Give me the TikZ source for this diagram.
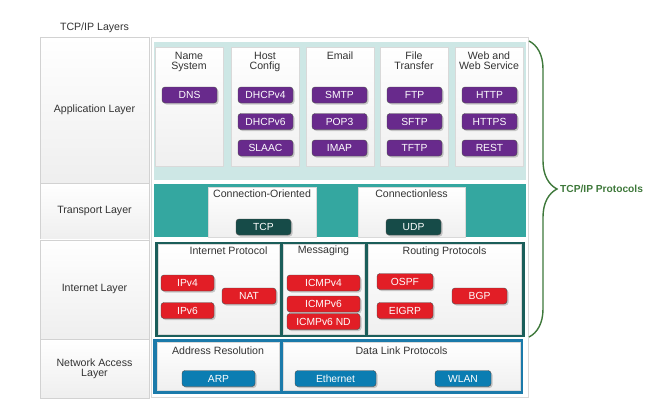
\documentclass[tikz,border=0pt]{standalone}
\usepackage{fontspec}
\setmainfont{Liberation Sans}
\usetikzlibrary{positioning, shadows, decorations.pathreplacing}

\definecolor{txtGray}{RGB}{51,51,51}
\definecolor{appBg}{RGB}{205,231,229}
\definecolor{appPurple}{RGB}{104,42,140}
\definecolor{trBg}{RGB}{52,167,160}
\definecolor{trDark}{RGB}{22,75,72}
\definecolor{inBg}{RGB}{27,94,90}
\definecolor{inRed}{RGB}{226,30,38}
\definecolor{naBg}{RGB}{27,122,170}
\definecolor{naBlue}{RGB}{11,125,178}
\definecolor{braceGreen}{RGB}{62,120,58}

\begin{document}
\begin{tikzpicture}[
	x=1pt, y=-1pt,
	font=\fontsize{10.6}{10}\selectfont,
	every node/.style={inner sep=1pt, text=txtGray},
	softshadow/.style={drop shadow={shadow xshift=1.2pt, shadow yshift=-1.2pt, opacity=0.3}},
	layer/.style={draw=gray!35, top color=white, bottom color=gray!13, minimum width=109pt, align=center, softshadow},
	panel/.style={draw=gray!30, fill=white, softshadow},
	grp/.style={draw=gray!30, top color=white, bottom color=gray!12, softshadow},
	grptitle/.style={align=center, anchor=north},
	btn/.style={rounded corners=3pt, draw=black!70, text=white, minimum height=16pt, inner sep=0pt,
		font=\fontsize{10.3}{10}\selectfont, drop shadow={shadow xshift=1.5pt, shadow yshift=-1.5pt, opacity=0.4}},
	appbtn/.style={btn, fill=appPurple, minimum width=55pt},
	trbtn/.style={btn, fill=trDark, minimum width=55pt},
	inbtn/.style={btn, fill=inRed},
	nabtn/.style={btn, fill=naBlue},
	brace/.style={decorate, decoration={brace, amplitude=28pt}, draw=braceGreen, line width=1.4pt}
	]
	\useasboundingbox (0,0) rectangle (660,415);
	
	% Layer column
	\node[layer, minimum height=146pt] (appLayer) at (94.5,110) {Application Layer};
	\node[layer, minimum height=56pt, below=0pt of appLayer] (trLayer) {Transport Layer};
	\node[layer, minimum height=99pt, below=0pt of trLayer] (inLayer) {Internet Layer};
	\node[layer, minimum height=59pt, below=0pt of inLayer] (naLayer) {Network Access\\Layer};
	\node[above=3pt of appLayer] (layersTitle) {TCP/IP Layers};
	
	% Protocol stack
	\node[panel, minimum width=377pt, minimum height=360pt] (stack) at (339.5,217) {};
	
	% Application
	\node[fill=appBg, minimum width=372pt, minimum height=138pt] (appBand) at (340,111) {};
	\node[grp, minimum width=68pt, minimum height=119pt] (nameCol) at (189,106.5) {};
	\node[grp, minimum width=68pt, minimum height=119pt] (hostCol) at (265,106.5) {};
	\node[grp, minimum width=68pt, minimum height=119pt] (mailCol) at (340,106.5) {};
	\node[grp, minimum width=68pt, minimum height=119pt] (fileCol) at (414,106.5) {};
	\node[grp, minimum width=68pt, minimum height=119pt] (webCol) at (489,106.5) {};
	\node[grptitle, below=4pt of nameCol.north] (nameTitle) {Name\\System};
	\node[grptitle, below=4pt of hostCol.north] (hostTitle) {Host\\Config};
	\node[grptitle, below=4pt of mailCol.north] (mailTitle) {Email};
	\node[grptitle, below=4pt of fileCol.north] (fileTitle) {File\\Transfer};
	\node[grptitle, below=4pt of webCol.north] (webTitle) {Web and\\Web Service};
	\node[appbtn] (dns) at (189.5,95) {DNS};
	\node[appbtn] (dhcp4) at (265.5,95) {DHCPv4};
	\node[appbtn] (dhcp6) at (265.5,121.5) {DHCPv6};
	\node[appbtn] (slaac) at (265.5,148) {SLAAC};
	\node[appbtn] (smtp) at (339.5,95) {SMTP};
	\node[appbtn] (pop3) at (339.5,121.5) {POP3};
	\node[appbtn] (imap) at (339.5,148) {IMAP};
	\node[appbtn] (ftp) at (414.5,95) {FTP};
	\node[appbtn] (sftp) at (414.5,121.5) {SFTP};
	\node[appbtn] (tftp) at (414.5,148) {TFTP};
	\node[appbtn] (http) at (489.5,95) {HTTP};
	\node[appbtn] (https) at (489.5,121.5) {HTTPS};
	\node[appbtn] (rest) at (489.5,148) {REST};
	
	% Transport
	\node[fill=trBg, minimum width=372pt, minimum height=53pt] (trBand) at (340,210.5) {};
	\node[grp, minimum width=108pt, minimum height=50pt] (coBox) at (262,212) {};
	\node[grp, minimum width=107pt, minimum height=50pt] (clBox) at (411.5,212) {};
	\node[grptitle, below=1.5pt of coBox.north] (coTitle) {Connection-Oriented};
	\node[grptitle, below=1.5pt of clBox.north] (clTitle) {Connectionless};
	\node[trbtn] (tcp) at (263.5,227) {TCP};
	\node[trbtn] (udp) at (413.5,227) {UDP};
	
	% Internet
	\node[fill=inBg, draw=inBg, minimum width=369pt, minimum height=94pt] (inBand) at (339.5,289) {};
	\node[grp, minimum width=121pt, minimum height=90pt] (ipBox) at (218.5,289) {};
	\node[grp, minimum width=81pt, minimum height=90pt] (msgBox) at (323.5,289) {};
	\node[grp, minimum width=153pt, minimum height=90pt] (rtBox) at (444.5,289) {};
	\node[grptitle, below=2pt of ipBox.north, xshift=10pt] (ipTitle) {Internet Protocol};
	\node[grptitle, below=1pt of msgBox.north] (msgTitle) {Messaging};
	\node[grptitle, below=2pt of rtBox.north] (rtTitle) {Routing Protocols};
	\node[inbtn, minimum width=53pt] (ipv4) at (187.5,283) {IPv4};
	\node[inbtn, minimum width=53pt] (ipv6) at (187.5,310.5) {IPv6};
	\node[inbtn, minimum width=54pt] (nat) at (249,296) {NAT};
	\node[inbtn, minimum width=73pt] (icmp4) at (323.5,283) {ICMPv4};
	\node[inbtn, minimum width=73pt] (icmp6) at (323.5,304) {ICMPv6};
	\node[inbtn, minimum width=73pt] (icmpnd) at (323.5,321.5) {ICMPv6 ND};
	\node[inbtn, minimum width=56pt] (ospf) at (405,281.5) {OSPF};
	\node[inbtn, minimum width=56pt] (eigrp) at (405,310.5) {EIGRP};
	\node[inbtn, minimum width=55pt] (bgp) at (479.5,296) {BGP};
	
	% Network Access
	\node[fill=naBg, minimum width=370pt, minimum height=55pt] (naBand) at (338,366.5) {};
	\node[grp, minimum width=122pt, minimum height=48pt] (arBox) at (218,366) {};
	\node[grp, minimum width=237pt, minimum height=48pt] (dlBox) at (401.5,366) {};
	\node[grptitle, below=4pt of arBox.north] (arTitle) {Address Resolution};
	\node[grptitle, below=4pt of dlBox.north] (dlTitle) {Data Link Protocols};
	\node[nabtn, minimum width=73pt] (arp) at (218.5,378.5) {ARP};
	\node[nabtn, minimum width=81pt] (eth) at (335.5,378.5) {Ethernet};
	\node[nabtn, minimum width=56pt] (wlan) at (463,378.5) {WLAN};
	
	% Brace
	\coordinate (braceTop) at (529,41);
	\coordinate (braceBot) at (529,337);
	\coordinate (braceTip) at (557,189);
	\draw[brace] (braceTop) -- (braceBot);
	\node[right=2pt of braceTip, text=braceGreen, font=\bfseries\fontsize{10.2}{10}\selectfont] (protoLabel) {TCP/IP Protocols};
	
\end{tikzpicture}
\end{document}
